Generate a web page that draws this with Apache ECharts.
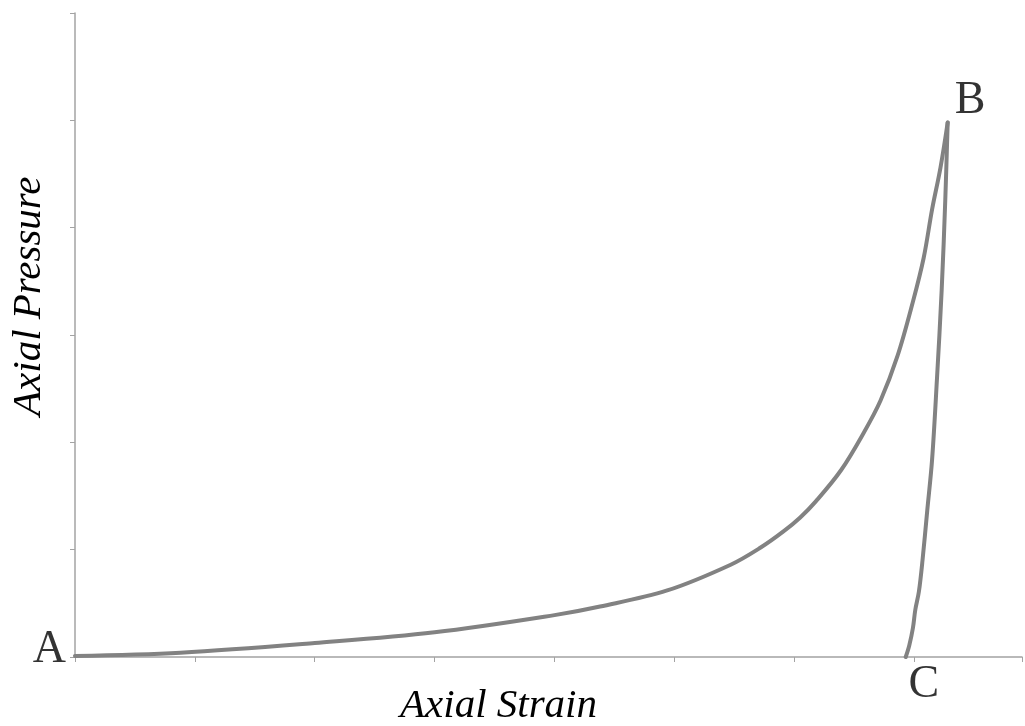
<!DOCTYPE html>
<html>
<head>
<meta charset="utf-8">
<script src="https://cdn.jsdelivr.net/npm/echarts@6/dist/echarts.min.js"></script>
<style>
  html, body { margin: 0; padding: 0; background: #ffffff; }
  #chart { width: 1025px; height: 726px; }
</style>
</head>
<body>
<div id="chart"></div>
<script>
// Loading path A -> B (strain, pressure)
const loadStrain   = [0, 0.88, 2.0, 3.0, 4.0, 4.38, 4.94, 5.47, 5.72, 5.91, 6.05, 6.18, 6.39, 6.58, 6.72, 6.86, 6.99, 7.08, 7.15, 7.22, 7.28];
const loadPressure = [0.01, 0.04, 0.13, 0.23, 0.39, 0.47, 0.62, 0.86, 1.02, 1.17, 1.30, 1.45, 1.74, 2.09, 2.39, 2.80, 3.31, 3.72, 4.17, 4.56, 4.98];
// Unloading path B -> C
const unloadStrain   = [7.28, 7.26, 7.23, 7.19, 7.15, 7.11, 7.07, 7.04, 7.01, 6.99, 6.96, 6.93];
const unloadPressure = [4.98, 4.26, 3.42, 2.58, 1.84, 1.37, 0.90, 0.61, 0.44, 0.27, 0.11, 0.0];
// Point labels
const pointNames = ['A', 'B', 'C'];

const loading = loadStrain.map((x, i) => [x, loadPressure[i]]);
const unloading = unloadStrain.map((x, i) => [x, unloadPressure[i]]);

const lastLoad = loadStrain.length - 1;
const lastUnload = unloadStrain.length - 1;
const markers = [
  { value: [loadStrain[0], loadPressure[0]], name: pointNames[0],
    label: { position: 'left', offset: [-4, -6] } },
  { value: [loadStrain[lastLoad], loadPressure[lastLoad]], name: pointNames[1],
    label: { position: 'right', offset: [2, -22] } },
  { value: [unloadStrain[lastUnload], unloadPressure[lastUnload]], name: pointNames[2],
    label: { position: 'bottom', offset: [18, 0] } }
];

const serif = '"Liberation Serif", "DejaVu Serif", serif';
const axisGray = '#a3a3a3';
const curveStyle = { color: '#828282', width: 4, cap: 'round', join: 'round' };

const chart = echarts.init(document.getElementById('chart'));
chart.setOption({
  backgroundColor: '#ffffff',
  animation: false,
  grid: { left: 75, right: 3, top: 13, bottom: 69 },
  xAxis: {
    type: 'value', min: 0, max: 7.9, interval: 1,
    axisLine: { show: true, lineStyle: { color: axisGray, width: 1.5 } },
    axisTick: { show: true, length: 5, lineStyle: { color: axisGray } },
    axisLabel: { show: false },
    splitLine: { show: false }
  },
  yAxis: {
    type: 'value', min: 0, max: 6, interval: 1,
    axisLine: { show: true, lineStyle: { color: axisGray, width: 1.5 } },
    axisTick: { show: true, length: 5, lineStyle: { color: axisGray } },
    axisLabel: { show: false },
    splitLine: { show: false }
  },
  graphic: [
    { type: 'text', left: 400, top: 686,
      style: { text: 'Axial Strain', font: 'italic 41px ' + serif, fill: '#000' } },
    { type: 'text', x: 9, y: 416, rotation: Math.PI / 2, originX: 0, originY: 0,
      style: { text: 'Axial Pressure', font: 'italic 41px ' + serif, fill: '#000' } }
  ],
  series: [
    {
      type: 'line',
      data: loading,
      smooth: 0.35,
      showSymbol: false,
      lineStyle: curveStyle
    },
    {
      type: 'line',
      data: unloading,
      smooth: 0.35,
      showSymbol: false,
      lineStyle: curveStyle
    },
    {
      type: 'scatter',
      data: markers,
      symbolSize: 0,
      label: {
        show: true,
        formatter: p => p.name,
        fontFamily: serif,
        fontSize: 46,
        color: '#000'
      }
    }
  ]
});
</script>
</body>
</html>
